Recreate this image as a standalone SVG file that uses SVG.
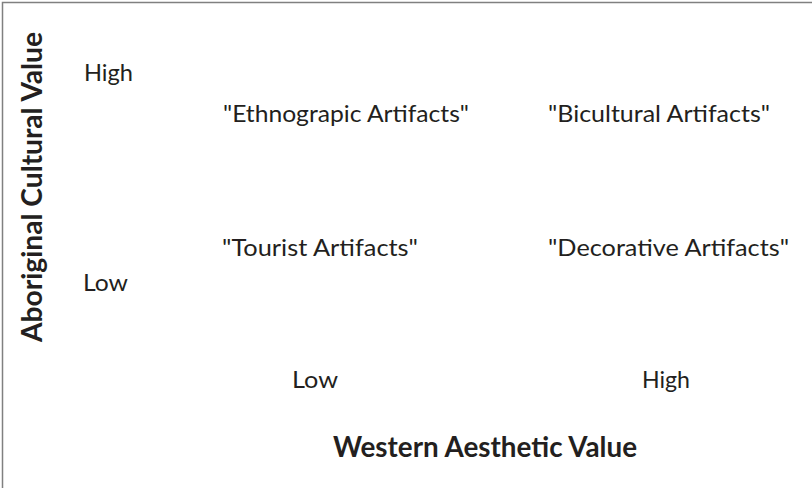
<svg xmlns="http://www.w3.org/2000/svg" width="812" height="488" viewBox="0 0 812 488">
  <style>
    text { font-family: "Lato", "Open Sans", "Liberation Sans", sans-serif; fill: #231f20; }
    .lbl { font-size: 24px; }
    .axis { font-size: 28px; font-weight: bold; }
  </style>
  <rect x="0" y="0" width="812" height="488" fill="#ffffff"/>
  <!-- frame: only the left and top edges fall inside the canvas -->
  <path d="M2.5,488 V2.5 H812" fill="none" stroke="#808080" stroke-width="1.5"/>

  <g id="y-axis">
    <text class="axis" transform="translate(42,187) rotate(-90)" text-anchor="middle" textLength="310" lengthAdjust="spacingAndGlyphs">Aboriginal Cultural Value</text>
    <text class="lbl" x="84" y="81" textLength="49" lengthAdjust="spacingAndGlyphs">High</text>
    <text class="lbl" x="83" y="291" textLength="45" lengthAdjust="spacingAndGlyphs">Low</text>
  </g>

  <g id="x-axis">
    <text class="lbl" x="292" y="388" textLength="46" lengthAdjust="spacingAndGlyphs">Low</text>
    <text class="lbl" x="642" y="388" textLength="48" lengthAdjust="spacingAndGlyphs">High</text>
    <text class="axis" x="333" y="457" textLength="304" lengthAdjust="spacingAndGlyphs">Western Aesthetic Value</text>
  </g>

  <g id="ethnographic">
    <text class="lbl" x="223" y="122" textLength="246" lengthAdjust="spacingAndGlyphs">"Ethnograpic Artifacts"</text>
  </g>
  <g id="bicultural">
    <text class="lbl" x="548" y="122" textLength="222" lengthAdjust="spacingAndGlyphs">"Bicultural Artifacts"</text>
  </g>
  <g id="tourist">
    <text class="lbl" x="222" y="256" textLength="196" lengthAdjust="spacingAndGlyphs">"Tourist Artifacts"</text>
  </g>
  <g id="decorative">
    <text class="lbl" x="548" y="256" textLength="241" lengthAdjust="spacingAndGlyphs">"Decorative Artifacts"</text>
  </g>

  <g id="connectors"></g>
</svg>
